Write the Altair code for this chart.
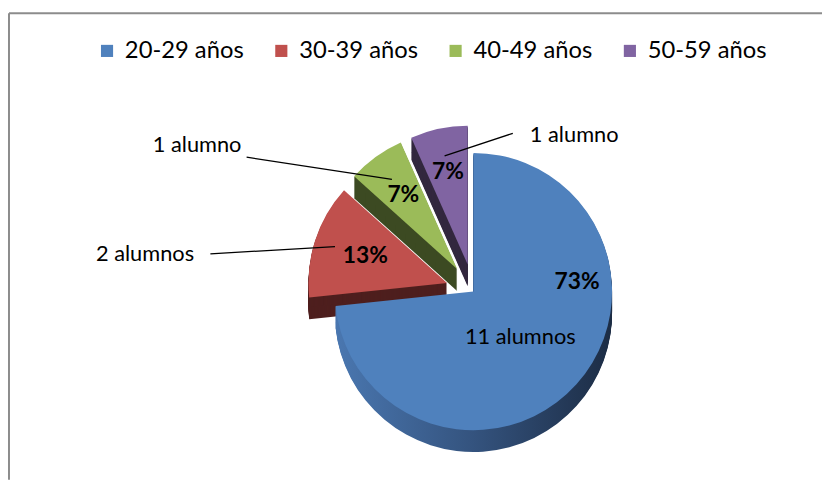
import altair as alt
import pandas as pd
import numpy as np

# ---- data ----
categories = ["20-29 años", "30-39 años", "40-49 años", "50-59 años"]
students = [11, 2, 1, 1]
pct_labels = ["73%", "13%", "7%", "7%"]
count_labels = ["11 alumnos", "2 alumnos", "1 alumno", "1 alumno"]

# ---- styles ----
top_colors = ["#4F81BD", "#C0504D", "#9BBB59", "#8064A2"]
side_colors = ["#2f4a70", "#4e1f1e", "#3c4a22", "#33283f"]
FONT = "Lato"

# ---- layout (pixels inside the plot area) ----
W, H = 822, 474
CX, CY, R, DEPTH = 470, 284, 140, 22
explode = [0, 28, 28, 28]
# percent label: (angle deg, radius factor); None angle = slice bisector
pct_pos = [(85, 0.75), (None, 0.62), (None, 0.66), (None, 0.68)]
# count label: inside (angle, r) for blue; leader line start r on bisector, end (angle, r)
line_start_r = [None, 0.85, 0.80, 0.80]
line_end = [None, (277, 1.72), (298, 1.72), (19, 1.0)]
count_inside = (134, 0.47)
count_shift = [(0, 0), (-66, 0), (-50, -12), (62, 2)]

total = sum(students)
cum = np.cumsum([0] + students)
t0 = 2 * np.pi * cum[:-1] / total
t1 = 2 * np.pi * cum[1:] / total
mid = (t0 + t1) / 2
ex = np.array(explode, dtype=float)
cx = CX + ex * np.sin(mid)
cy = CY - ex * np.cos(mid)


def polar(i, ang, rf):
    a = mid[i] if ang is None else np.deg2rad(ang)
    return cx[i] + rf * R * np.sin(a), cy[i] - rf * R * np.cos(a)


slices = pd.DataFrame({
    "cat": categories, "n": students, "t0": t0, "t1": t1,
    "cx": cx, "cy": cy, "side": side_colors,
})

# shadow copies build the 3D thickness
shadow = pd.concat(
    [slices.assign(cy=slices["cy"] + k) for k in range(DEPTH, 0, -1)],
    ignore_index=True,
)

pct_rows, cnt_rows, line_rows = [], [], []
for i in range(len(categories)):
    px, py = polar(i, *pct_pos[i])
    pct_rows.append({"x": px, "y": py, "t": pct_labels[i]})
    if line_end[i] is None:
        qx, qy = polar(i, *count_inside)
        cnt_rows.append({"x": qx, "y": qy, "t": count_labels[i]})
    else:
        sx, sy = polar(i, None, line_start_r[i])
        exx, eyy = polar(i, *line_end[i])
        line_rows.append({"x": sx, "y": sy, "x2": exx, "y2": eyy})
        cnt_rows.append({"x": exx + count_shift[i][0], "y": eyy + count_shift[i][1],
                         "t": count_labels[i]})

pct_df = pd.DataFrame(pct_rows)
cnt_df = pd.DataFrame(cnt_rows)
line_df = pd.DataFrame(line_rows)

X = lambda f: alt.X(f, type="quantitative", scale=None, axis=None)
Y = lambda f: alt.Y(f, type="quantitative", scale=None, axis=None)
TH = alt.Theta("t0:Q", scale=None, stack=None)

side_other = alt.Chart(shadow).transform_filter(
    alt.datum.cat != categories[0]
).mark_arc(radius=R).encode(
    x=X("cx"), y=Y("cy"), theta=TH, theta2="t1:Q",
    color=alt.Color("side:N", scale=None),
)

side_blue = alt.Chart(shadow).transform_filter(
    alt.datum.cat == categories[0]
).mark_arc(
    radius=R,
    fill=alt.Gradient(
        gradient="linear", x1=0, x2=1, y1=0, y2=0,
        stops=[alt.GradientStop(color="#4a77b0", offset=0),
               alt.GradientStop(color="#34537e", offset=0.5),
               alt.GradientStop(color="#1c2c44", offset=1)],
    ),
).encode(x=X("cx"), y=Y("cy"), theta=TH, theta2="t1:Q")

tops = alt.Chart(slices).mark_arc(radius=R).encode(
    x=X("cx"), y=Y("cy"), theta=TH, theta2="t1:Q",
    color=alt.Color(
        "cat:N",
        scale=alt.Scale(domain=categories, range=top_colors),
        legend=alt.Legend(
            title=None, orient="none", legendX=88, legendY=29,
            direction="horizontal", columns=4, symbolType="square",
            symbolSize=150, symbolStrokeWidth=0, symbolOpacity=1,
            labelFont=FONT, labelFontSize=24, labelColor="#000000",
            labelOffset=6, columnPadding=25, labelLimit=300,
        ),
    ),
)

lines = alt.Chart(line_df).mark_rule(color="#000000", strokeWidth=1.3).encode(
    x=X("x"), y=Y("y"), x2="x2:Q", y2="y2:Q"
)

pct_text = alt.Chart(pct_df).mark_text(
    font=FONT, fontSize=23, fontWeight="bold", color="#000000"
).encode(x=X("x"), y=Y("y"), text="t:N")

cnt_text = alt.Chart(cnt_df).mark_text(
    font=FONT, fontSize=22, color="#000000"
).encode(x=X("x"), y=Y("y"), text="t:N")

frame_df = pd.DataFrame({"k": [0]})
frame_left = alt.Chart(frame_df).mark_rule(color="#8c8c8c", strokeWidth=2).encode(
    x=alt.value(1), y=alt.value(3), y2=alt.value(H)
)
frame_top = alt.Chart(frame_df).mark_rule(color="#8c8c8c", strokeWidth=2).encode(
    x=alt.value(1), x2=alt.value(W), y=alt.value(3)
)

chart = alt.layer(
    frame_left, frame_top, side_other, side_blue, tops, lines, pct_text, cnt_text
).properties(
    width=W, height=H, padding=0, autosize=alt.AutoSizeParams(type="none"),
    background="#ffffff",
).configure_view(stroke=None)

chart.save("out.html", embed_options={"renderer": "svg", "actions": False})
